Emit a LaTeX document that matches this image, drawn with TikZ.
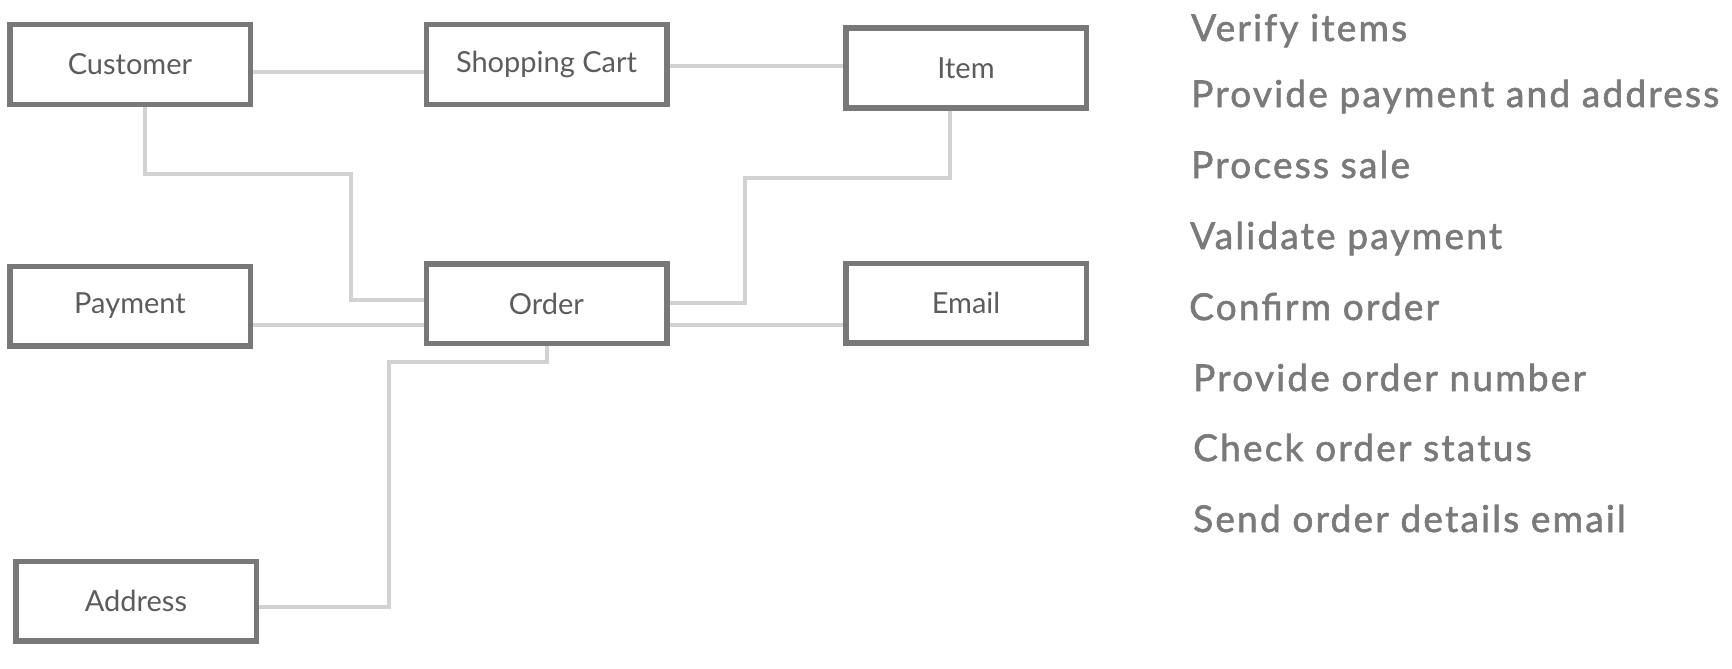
\documentclass[tikz,border=0pt]{standalone}
\usepackage{fontspec}
\setmainfont{Lato}
\newfontfamily\listfont[LetterSpace=6, FakeBold=1.6]{Lato}
\usetikzlibrary{calc}
\definecolor{boxc}{HTML}{787878}
\definecolor{connc}{HTML}{D2D2D2}
\definecolor{labc}{HTML}{5C5C5C}
\definecolor{listc}{HTML}{7A7A7A}
\tikzset{
  entity/.style={draw=boxc, line width=5.5pt, fill=white, minimum width=240.5pt, minimum height=79.5pt, inner sep=0pt, text=labc, font=\fontsize{29}{34}\selectfont},
  conn/.style={draw=connc, line width=4pt, line join=miter},
  listitem/.style={anchor=base west, inner sep=0pt, text=listc, font=\listfont\fontsize{37}{42}\selectfont}
}
\begin{document}
\begin{tikzpicture}[x=1pt,y=-1pt]
\useasboundingbox (0,0) rectangle (1732,669);
\node[entity] (cust) at (130,64.5) {Customer};
\node[entity] (cart) at (546.5,64.5) {Shopping Cart};
\node[entity] (item) at (966,68) {Item};
\node[entity] (pay) at (130,306) {Payment};
\node[entity] (order) at (546.5,303.5) {Order};
\node[entity] (email) at (966,303) {Email};
\node[entity] (addr) at (136,601) {Address};
\draw[conn] (cust.east |- 0,72) -- (cart.west |- 0,72);
\draw[conn] (cart.east |- 0,66) -- (item.west |- 0,66);
\draw[conn] (cust.south -| 145,0) |- (351,174) |- (order.west |- 0,300);
\draw[conn] (pay.east |- 0,325) -- (order.west |- 0,325);
\draw[conn] (item.south -| 950,0) |- (745,178) |- (order.east |- 0,303);
\draw[conn] (order.east |- 0,325) -- (email.west |- 0,325);
\draw[conn] (order.south -| 547,0) |- (389,362) |- (addr.east |- 0,607);
\node[listitem] (l1) at (1191,41) {Verify items};
\node[listitem] (l2) at (1191,107) {Provide payment and address};
\node[listitem] (l3) at (1191,178) {Process sale};
\node[listitem] (l4) at (1190,249) {Validate payment};
\node[listitem] (l5) at (1189,320) {Confirm order};
\node[listitem] (l6) at (1193,391) {Provide order number};
\node[listitem] (l7) at (1193,461) {Check order status};
\node[listitem] (l8) at (1193,532) {Send order details email};
\end{tikzpicture}
\end{document}
